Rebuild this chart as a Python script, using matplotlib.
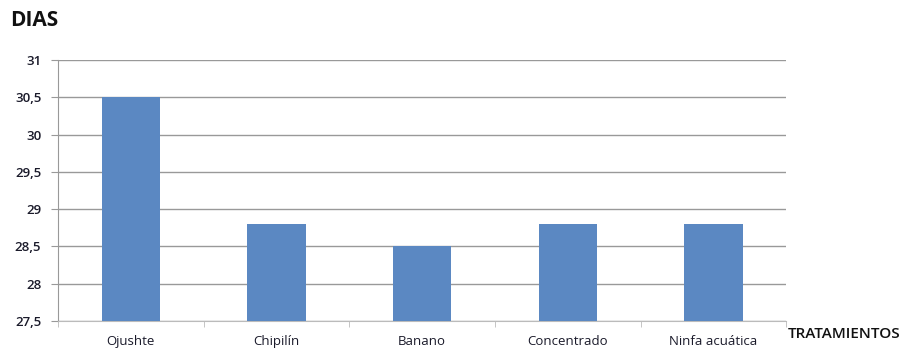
import matplotlib.pyplot as plt

plt.rcParams['font.family'] = ['Open Sans', 'DejaVu Sans']

tratamientos = ['Ojushte', 'Chipilín', 'Banano', 'Concentrado', 'Ninfa acuática']
dias = [30.5, 28.8, 28.5, 28.8, 28.8]
yticks = [27.5, 28, 28.5, 29, 29.5, 30, 30.5, 31]
ytick_labels = ['27,5', '28', '28,5', '29', '29,5', '30', '30,5', '31']

fig = plt.figure(figsize=(9.06, 3.48), dpi=100)
ax = fig.add_axes([0.064, 0.078, 0.804, 0.749])

x = range(len(tratamientos))
ax.bar(x, [d - 27.5 for d in dias], bottom=27.5, width=0.4, color='#5b88c2', zorder=3)

ax.set_ylim(27.5, 31)
ax.set_xlim(-0.5, len(tratamientos) - 0.5)
ax.set_yticks(yticks)
ax.set_yticklabels(ytick_labels, fontsize=9.5, color='#1a1a2a', fontweight='semibold')
ax.yaxis.grid(True, color='#999999', linewidth=1, zorder=0)

# category labels centred, ticks on the category boundaries
ax.set_xticks(list(x))
ax.set_xticklabels(tratamientos, fontsize=9.5, color='#1a1a2a')
ax.tick_params(axis='x', length=0, pad=10.5)
ax.set_xticks([i - 0.5 for i in range(len(tratamientos) + 1)], minor=True)
ax.tick_params(axis='x', which='minor', length=4, color='#bbbbbb')
ax.tick_params(axis='y', length=5, color='#999999', pad=7)

for side in ['top', 'right']:
    ax.spines[side].set_visible(False)
ax.spines['left'].set_color('#999999')
ax.spines['bottom'].set_color('#bbbbbb')

fig.text(0.011, 0.925, 'DIAS', fontsize=15, fontweight='bold', color='#111111')
fig.text(0.869, 0.03, 'TRATAMIENTOS', fontsize=11, color='#111111', fontweight='semibold')

fig.savefig('out.png', dpi=100)
